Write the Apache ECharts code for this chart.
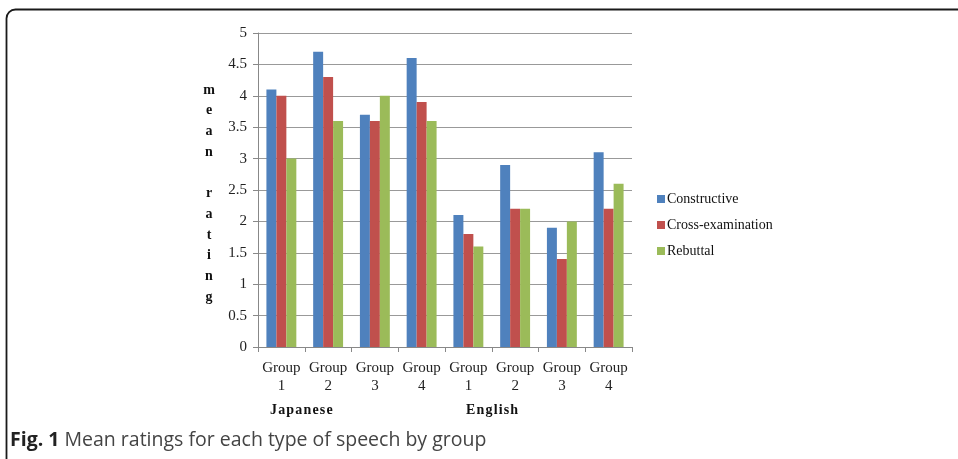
<!DOCTYPE html>
<html>
<head>
<meta charset="utf-8">
<script src="https://cdn.jsdelivr.net/npm/echarts@6/dist/echarts.min.js"></script>
<style>
html,body{margin:0;padding:0;background:#fff;}
#c{width:958px;height:459px;}
</style>
</head>
<body>
<div id="c"></div>
<script>
const categories = ['Group\n1','Group\n2','Group\n3','Group\n4','Group\n1','Group\n2','Group\n3','Group\n4'];
const constructive = [4.1, 4.7, 3.7, 4.6, 2.1, 2.9, 1.9, 3.1];
const crossExamination = [4.0, 4.3, 3.6, 3.9, 1.8, 2.2, 1.4, 2.2];
const rebuttal = [3.0, 3.6, 4.0, 3.6, 1.6, 2.2, 2.0, 2.6];
const seriesNames = ['Constructive', 'Cross-examination', 'Rebuttal'];
const yTicks = [0, 0.5, 1, 1.5, 2, 2.5, 3, 3.5, 4, 4.5, 5];
const axisTitleLetters = ['m','e','a','n','','r','a','t','i','n','g'];
const languageLabels = ['Japanese', 'English'];
const caption = ['Fig. 1', ' Mean ratings for each type of speech by group'];

const colors = ['#4F81BD', '#C0504D', '#9BBB59'];
const serif = '"Liberation Serif", "Times New Roman", serif';

const chart = echarts.init(document.getElementById('c'), null, {renderer: 'canvas'});

const graphics = [
  {
    type: 'rect',
    shape: {x: 6.5, y: 9.5, width: 1000, height: 500, r: 9},
    style: {fill: 'none', stroke: '#1a1a1a', lineWidth: 1.8},
    silent: true, z: 0
  }
];
axisTitleLetters.forEach((ch, i) => {
  graphics.push({
    type: 'text', x: 209, y: 90 + i * 20.7,
    style: {text: ch, font: 'bold 14px ' + serif, fill: '#111', align: 'center', verticalAlign: 'middle'}
  });
});
graphics.push({
  type: 'text', x: 270, y: 410,
  style: {text: languageLabels[0].split('').join('\u200A'), font: 'bold 14px ' + serif, fill: '#111', verticalAlign: 'middle'}
});
graphics.push({
  type: 'text', x: 466, y: 410,
  style: {text: languageLabels[1].split('').join('\u200A'), font: 'bold 14px ' + serif, fill: '#111', verticalAlign: 'middle'}
});
graphics.push({
  type: 'text', x: 10, y: 440,
  style: {
    text: '{b|' + caption[0] + '}{n|' + caption[1] + '}',
    verticalAlign: 'middle',
    rich: {
      b: {font: 'bold 19.5px "Open Sans", "Noto Sans", sans-serif', fill: '#222'},
      n: {font: '19.5px "Open Sans", "Noto Sans", sans-serif', fill: '#444'}
    }
  }
});

const mk = (name, data, color) => ({
  name, type: 'bar', data,
  itemStyle: {color},
  barGap: '0%', barCategoryGap: '36%',
  emphasis: {disabled: true}
});

chart.setOption({
  animation: false,
  color: colors,
  grid: {left: 258, right: 326, top: 33, bottom: 112, containLabel: false},
  legend: {
    orient: 'vertical', left: 652, top: 187,
    itemWidth: 8, itemHeight: 8, itemGap: 12,
    icon: 'rect',
    textStyle: {fontFamily: serif, fontSize: 14, color: '#111', padding: [0, 0, 0, -3]},
    data: seriesNames
  },
  xAxis: {
    type: 'category', data: categories,
    axisLine: {show: true, lineStyle: {color: '#888', width: 1}},
    axisTick: {show: true, alignWithLabel: false, length: 5, lineStyle: {color: '#888'}},
    axisLabel: {fontFamily: serif, fontSize: 15, color: '#222', lineHeight: 18, margin: 12, interval: 0}
  },
  yAxis: {
    type: 'value', min: 0, max: 5, interval: 0.5,
    axisLine: {show: true, lineStyle: {color: '#888', width: 1}},
    axisTick: {show: true, length: 5, lineStyle: {color: '#888'}},
    axisLabel: {fontFamily: serif, fontSize: 15, color: '#222', margin: 11,
      formatter: v => String(yTicks.find(t => Math.abs(t - v) < 1e-9) ?? v)},
    splitLine: {show: true, lineStyle: {color: '#999', width: 1}}
  },
  series: [
    mk(seriesNames[0], constructive, colors[0]),
    mk(seriesNames[1], crossExamination, colors[1]),
    mk(seriesNames[2], rebuttal, colors[2])
  ],
  graphic: graphics
});
</script>
</body>
</html>
